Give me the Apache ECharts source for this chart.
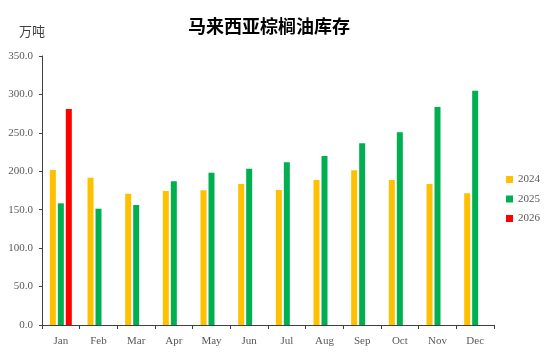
<!DOCTYPE html>
<html>
<head>
<meta charset="utf-8">
<script src="https://cdn.jsdelivr.net/npm/echarts@6/dist/echarts.min.js"></script>
<style>
  html, body { margin: 0; padding: 0; background: #fff; }
  #chart { width: 550px; height: 352px; }
</style>
</head>
<body>
<div id="chart"></div>
<script>
// 月份
var months = ["Jan", "Feb", "Mar", "Apr", "May", "Jun", "Jul", "Aug", "Sep", "Oct", "Nov", "Dec"];
// 各年库存（万吨）
var stock2024 = [201.7, 191.7, 170.9, 174.3, 175.2, 183.4, 175.6, 188.7, 201.2, 188.7, 183.4, 171.3];
var stock2025 = [158.3, 151.3, 156.1, 187.0, 198.2, 203.4, 211.7, 219.9, 236.4, 250.7, 283.6, 304.8];
var stock2026 = [281.0, null, null, null, null, null, null, null, null, null, null, null];

var serif = "'Liberation Serif', 'DejaVu Serif', serif";
var labelColor = "#595959";

var chart = echarts.init(document.getElementById("chart"));
var option = {
  animation: false,
  title: {
    text: "马来西亚棕榈油库存",
    left: 183,
    top: 12,
    textStyle: {
      fontFamily: "'Noto Sans CJK SC', sans-serif",
      fontSize: 18,
      fontWeight: "bold",
      color: "#000"
    }
  },
  legend: {
    orient: "vertical",
    right: 5,
    top: 169,
    itemWidth: 7,
    itemHeight: 7,
    itemGap: 8.5,
    icon: "rect",
    textStyle: { fontFamily: serif, fontSize: 11, color: labelColor },
    data: ["2024", "2025", "2026"]
  },
  grid: {
    left: 42,
    right: 56,
    top: 56,
    bottom: 27
  },
  xAxis: {
    type: "category",
    data: months,
    axisLine: { lineStyle: { color: "#404040", width: 1 } },
    axisTick: { show: true, length: 4, lineStyle: { color: "#404040" } },
    axisLabel: { fontFamily: serif, fontSize: 11, color: labelColor, margin: 11 }
  },
  yAxis: {
    type: "value",
    name: "万吨",
    nameLocation: "end",
    nameGap: 18,
    nameTextStyle: {
      fontFamily: "'Noto Sans CJK SC', serif",
      fontSize: 13,
      color: "#404040",
      align: "right",
      padding: [0, -3, 0, 0]
    },
    min: 0,
    max: 350,
    interval: 50,
    axisLine: { show: true, lineStyle: { color: "#404040", width: 1 } },
    axisTick: { show: true, length: 3, lineStyle: { color: "#404040" } },
    splitLine: { show: false },
    axisLabel: {
      fontFamily: serif,
      fontSize: 11,
      color: labelColor,
      margin: 9,
      formatter: function (v) { return v.toFixed(1); }
    }
  },
  series: [
    {
      name: "2024",
      type: "bar",
      data: stock2024,
      barWidth: 6,
      barGap: "33%",
      itemStyle: { color: "#FFC000" }
    },
    {
      name: "2025",
      type: "bar",
      data: stock2025,
      barWidth: 6,
      barGap: "33%",
      itemStyle: { color: "#00B050" }
    },
    {
      name: "2026",
      type: "bar",
      data: stock2026,
      barWidth: 6,
      barGap: "33%",
      itemStyle: { color: "#FF0000" }
    }
  ]
};
chart.setOption(option);
</script>
</body>
</html>
